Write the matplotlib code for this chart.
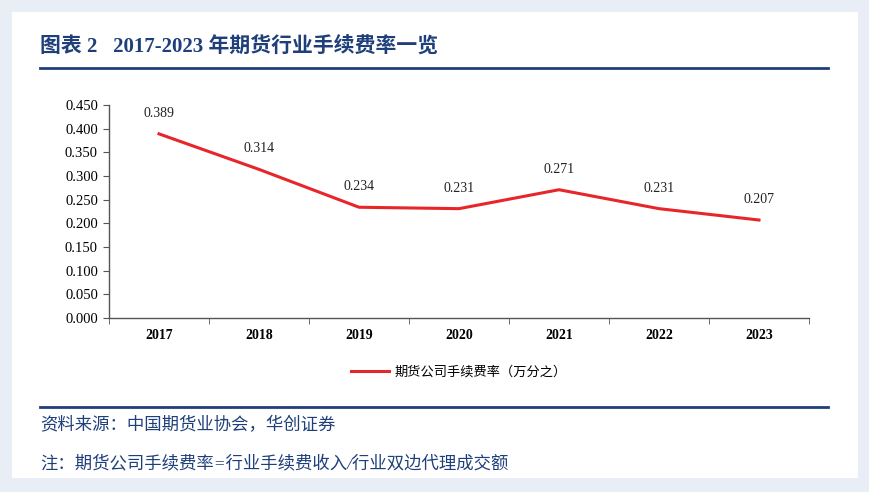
import matplotlib.pyplot as plt
from matplotlib.lines import Line2D
import numpy as np

YEARS = ["2017", "2018", "2019", "2020", "2021", "2022", "2023"]
FEE_RATE = [0.389, 0.314, 0.234, 0.231, 0.271, 0.231, 0.207]
Y_TICKS = [0.0, 0.05, 0.10, 0.15, 0.20, 0.25, 0.30, 0.35, 0.40, 0.45]

TITLE = "图表 2   2017-2023 年期货行业手续费率一览"
LEGEND_LABEL = "期货公司手续费率（万分之）"
SOURCE = "资料来源：中国期货业协会，华创证券"
NOTE = "注：期货公司手续费率=行业手续费收入/行业双边代理成交额"

BG = "#E9EEF6"
NAVY = "#1F3F7A"
RED = "#E8262A"
CJK = ['Liberation Serif', 'Noto Sans CJK SC', 'DejaVu Sans']

plt.rcParams['font.family'] = CJK

DPI = 100
fig = plt.figure(figsize=(870 / DPI, 492 / DPI), dpi=DPI)
fig.patch.set_facecolor(BG)

# white panel
fig.patches.append(plt.Rectangle((12 / 870, 14 / 492), 846 / 870, 466 / 492,
                                 transform=fig.transFigure, facecolor="white",
                                 edgecolor="none", zorder=-5))

# title + rules
fig.text(40 / 870, 1 - 47 / 492, TITLE, family=CJK, fontsize=15,
         fontweight="bold", color=NAVY, va="center", ha="left")
fig.add_artist(Line2D([40 / 870, 828 / 870], [1 - 68 / 492] * 2,
                      transform=fig.transFigure, color=NAVY, lw=2))
fig.add_artist(Line2D([40 / 870, 828 / 870], [1 - 407 / 492] * 2,
                      transform=fig.transFigure, color=NAVY, lw=2))
fig.text(40 / 870, 1 - 426 / 492, SOURCE, family=CJK, fontsize=12.5,
         color=NAVY, va="center", ha="left", style="italic")
fig.text(40 / 870, 1 - 464 / 492, NOTE, family=CJK, fontsize=12.5,
         color=NAVY, va="center", ha="left", style="italic")

# -------------------------------------------------
# chart
# -------------------------------------------------
ax = fig.add_axes([109 / 870, 1 - 318 / 492, 700 / 870, 213 / 492])
ax.set_facecolor("none")
x = np.arange(len(YEARS))
ax.plot(x, FEE_RATE, color=RED, lw=2.2, label=LEGEND_LABEL)
for xi, v in zip(x, FEE_RATE):
    ax.annotate(f"{v:.3f}", (xi, v), xytext=(0, 10), textcoords="offset points",
                ha="center", va="bottom", fontsize=10, color="#222222")

ax.set_xlim(-0.5, len(YEARS) - 0.5)
ax.set_ylim(0, 0.45)
ax.set_yticks(Y_TICKS)
ax.set_yticklabels([f"{t:.3f}" for t in Y_TICKS], fontsize=10.5)
ax.set_xticks(x)
ax.set_xticklabels(YEARS, fontsize=10, fontweight="bold")
ax.set_xticks(np.arange(len(YEARS) + 1) - 0.5, minor=True)
ax.tick_params(axis="x", which="major", length=0, pad=8)
ax.tick_params(axis="x", which="minor", length=4, direction="out", color="#555555")
ax.tick_params(axis="y", length=4, direction="out", color="#555555", pad=4)
for s in ["top", "right"]:
    ax.spines[s].set_visible(False)
for s in ["left", "bottom"]:
    ax.spines[s].set_color("#555555")
    ax.spines[s].set_linewidth(1)

leg = ax.legend(loc="upper center", bbox_to_anchor=(0.5, -0.17), frameon=False,
                prop={"family": CJK, "size": 9.5}, handlelength=2.9,
                handletextpad=0.4)

fig.savefig("out.png", dpi=DPI, facecolor=fig.get_facecolor())
